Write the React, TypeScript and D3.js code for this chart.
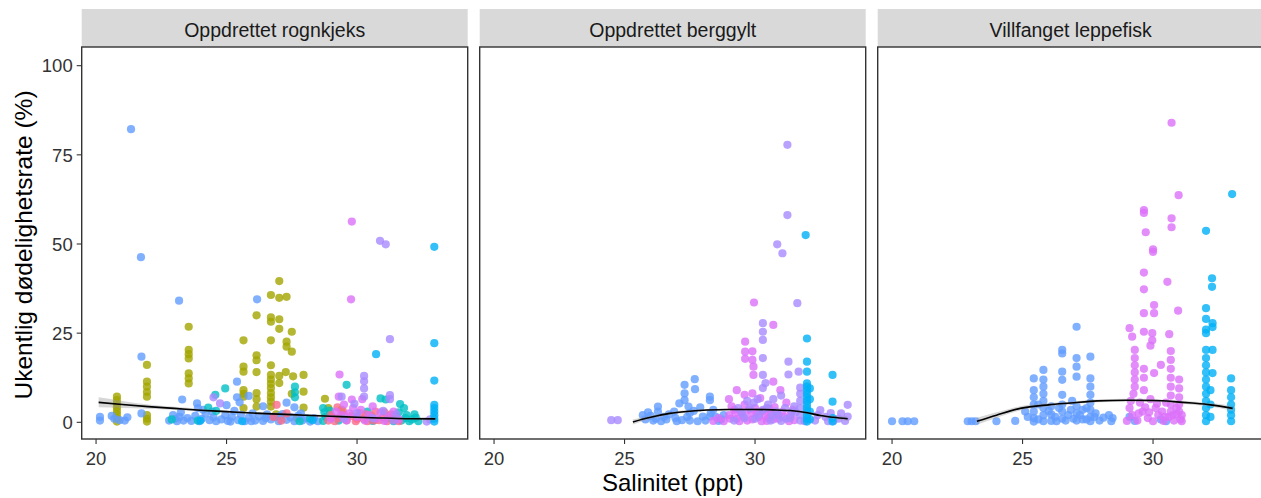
import React from 'react';
import * as d3 from 'd3';

type P = [number, number];

const facetLabels = ['Oppdrettet rognkjeks', 'Oppdrettet berggylt', 'Villfanget leppefisk'];
const xTicks = [20, 25, 30];
const yTicks = [0, 25, 50, 75, 100];
const xTitle = 'Salinitet (ppt)';
const yTitle = 'Ukentlig dødelighetsrate (%)';

const OLIVE = '#A3A500';
const CORN = '#619CFF';
const TEAL = '#00BFC4';
const BRIGHT = '#00B0F6';
const LAV = '#A88AFF';
const MAG = '#DC71FA';
const PINK = '#FA6A8A';

// ---- Panel 1: Oppdrettet rognkjeks ----
const p1Olive: P[] = [
  [20.8, 7.2], [20.8, 6.2], [20.8, 5.2], [20.8, 4.2], [20.8, 3.2], [20.8, 2.2], [20.8, 1.2], [20.8, 0.2],
  [21.95, 16.1], [21.95, 11.4], [21.95, 10], [21.95, 8.5], [21.95, 7.2], [21.95, 2], [21.95, 1], [21.95, 0.2],
  [23.55, 26.8], [23.55, 20.3], [23.55, 19.1], [23.55, 17.9], [23.55, 13.7], [23.55, 12.3], [23.55, 10.9],
  [25.65, 23], [25.65, 15.6], [25.65, 14.2], [25.65, 9], [25.65, 8], [25.65, 7.2], [25.65, 4],
  [26.15, 30], [26.15, 18.8], [26.15, 17.4], [26.15, 14.1], [26.15, 8.2], [26.15, 6.5], [26.15, 4.4],
  [26.7, 35.7], [26.7, 29.4], [26.7, 28.2], [26.7, 23], [26.7, 16], [26.7, 13.3], [26.7, 12], [26.7, 10.8],
  [26.7, 9.6], [26.7, 8.2], [26.7, 7], [26.7, 5.8], [26.7, 4.4],
  [27.02, 39.6], [27.02, 34.9], [27.02, 28.9], [27.02, 26.2], [27.02, 13], [27.02, 11],
  [27.3, 35.2], [27.3, 22.6], [27.3, 21.2], [27.27, 14.1],
  [27.5, 25.4], [27.5, 19.8], [27.55, 12.9], [27.5, 8],
  [27.95, 13.3], [27.95, 8.6], [27.95, 4.1],
  [28.77, 6.6], [28.9, 4], [29.4, 3.5], [26.9, 2.2], [27.7, 1.2],
];

const p1Corn: P[] = [
  [21.34, 82.2], [21.72, 46.3], [23.18, 34.1], [26.17, 34.5], [21.74, 18.4], [21.74, 2.5],
  [23.3, 6.4], [25.4, 11.4], [25.4, 7], [25.85, 7.4], [23.87, 5.3], [25.0, 4.8], [25.5, 5.6],
  [20.15, 1.5], [20.15, 0.5], [20.6, 1.8], [20.7, 1], [20.9, 0.6], [21.1, 0.5], [21.2, 1.4],
  [22.95, 2], [23.05, 1], [23.1, 0.3], [23.2, 1.5], [23.35, 0.5], [23.5, 1.2], [23.65, 0.4],
  [23.8, 1.8], [23.95, 0.3], [24.05, 1], [24.2, 2.4], [24.35, 0.6], [24.5, 1.4], [24.6, 0.3],
  [24.8, 0.8], [24.95, 2], [25.05, 0.4], [25.2, 1.5], [25.3, 3.2], [25.45, 0.6], [25.55, 2.1],
  [25.7, 0.3], [25.85, 1.3], [26.0, 2.5], [26.1, 0.5], [26.25, 1.6], [26.4, 0.4], [26.55, 2.2],
  [26.7, 0.8], [26.85, 1.5], [27.0, 0.3], [27.15, 2.3], [27.3, 0.7], [27.45, 1.4], [27.6, 0.3],
  [27.75, 1.9], [27.9, 0.5], [28.05, 1.2], [28.2, 0.2], [23.9, 4], [24.1, 3.5], [26.4, 4.5],
  [27.3, 5.5], [27.6, 4.2], [22.8, 0.5], [23.25, 2.8], [24.45, 3], [25.15, 0.2], [25.95, 0.3],
  [26.5, 1.2], [27.05, 1.8], [27.85, 2.5], [28.35, 1.2], [28.5, 0.3],
];

const p1Teal: P[] = [
  [24.95, 9.5], [24.57, 7.7], [27.62, 10], [27.62, 8.4], [27.62, 7], [29.6, 10.5], [30.9, 6.7],
  [31.1, 6.4], [31.65, 5.1], [31.8, 4], [28.7, 4], [28.75, 2.8], [28.8, 1.5], [28.7, 0.4],
  [28.95, 3.3], [31.5, 1.5], [31.7, 0.5], [31.9, 2], [32.1, 0.8], [32.25, 1.3], [32.35, 0.3],
  [29.3, 0.5], [24.3, 4.1], [24.6, 3.2], [23.9, 0.5], [22.9, 0.8], [28.2, 1], [27.8, 0.3],
  [30.6, 0.4], [31.2, 1.2], [30.4, 3], [31.6, 2.8], [31.85, 1.2], [32.0, 0.3], [32.2, 2.2],
  [31.4, 0.3],
];

const p1Bright: P[] = [
  [32.96, 49.2], [32.96, 22.2], [32.96, 11.7], [32.96, 4.9], [32.96, 4], [32.96, 3], [32.96, 2],
  [32.96, 1], [32.96, 0.2], [30.73, 19.1], [24.0, 0.5], [25.6, 0.3], [28.3, 0.6],
];

const p1Pink: P[] = [
  [26.92, 4.9], [26.8, 1.5], [27.1, 0.5], [27.3, 2.5], [28.9, 0.5], [29.0, 2], [29.15, 0.3],
  [29.3, 1.2], [29.45, 3.3], [29.6, 0.6], [29.8, 1.8], [29.95, 0.3], [30.1, 2.6], [30.25, 1],
  [30.4, 0.3], [30.55, 1.8], [30.7, 3], [30.85, 0.6], [31.0, 1.5], [31.15, 0.3], [31.3, 2.2],
  [31.45, 0.8], [31.6, 0.3], [29.25, 4.2], [29.05, 1.4], [29.5, 2], [30.0, 1], [30.35, 2.2],
  [30.65, 0.5], [31.05, 2.8], [31.4, 1.5],
];

const p1Mag: P[] = [
  [29.8, 56.3], [29.77, 34.5], [29.33, 13.4], [29.0, 1], [29.2, 3], [29.4, 2], [29.5, 5],
  [29.6, 0.5], [29.7, 2.5], [29.85, 4], [30.0, 1.5], [30.15, 3.5], [30.3, 0.5], [30.45, 2],
  [30.6, 4.5], [30.75, 1], [30.9, 2.8], [31.05, 0.4], [31.2, 1.7], [31.4, 3], [31.6, 0.8],
  [29.3, 7.2], [29.8, 6.4], [30.2, 6.5],
];

const p1Lav: P[] = [
  [30.88, 50.9], [31.1, 49.9], [31.26, 23.3], [30.27, 13], [30.27, 11.5], [30.27, 7.2],
  [30.27, 9.5], [29.41, 7.2], [31.26, 7.6], [31.26, 6.5], [24.5, 7], [24.75, 5.3], [32.67, 0.2],
  [32.8, 0.8], [29.5, 1], [30.0, 2.5], [30.6, 1.2], [31.0, 3.2], [31.4, 0.5], [31.5, 2.2], [29.9, 5.2],
];

// ---- Panel 2: Oppdrettet berggylt ----
const p2Corn: P[] = [
  [27.69, 12.1], [27.3, 10.5], [27.7, 9.3], [27.3, 8.1], [27.3, 6.2], [27.45, 4.4], [27.5, 2.6],
  [27.5, 0.5], [26.28, 4.4], [26.28, 3], [25.7, 2], [25.8, 0.8], [26.0, 1.8], [28.27, 7.2],
  [28.27, 6.2], [28.27, 1.6], [27.1, 5.3], [26.9, 3], [26.6, 0.8], [28.0, 1.6], [26.5, 1.5],
  [26.95, 1.2], [27.2, 0.6], [28.5, 1.5], [28.6, 0.4], [28.8, 2], [26.4, 0.3], [27.9, 4.2],
  [28.4, 3.5], [27.8, 0.3], [26.1, 0.5], [25.9, 2.8], [26.2, 1], [26.7, 2.2], [27.0, 0.3],
  [27.4, 1.5], [27.65, 3.2], [28.1, 0.5], [28.3, 2.6], [28.7, 0.8],
];

const p2Lav: P[] = [
  [24.49, 0.6], [24.74, 0.6], [31.24, 77.8], [31.24, 58.1], [30.85, 49.9], [31.05, 47.4],
  [31.62, 33.4], [30.3, 27.8], [30.3, 25.4], [30.3, 23.1], [30.3, 18], [30.3, 13.3], [30.3, 9.6],
  [31.28, 17], [31.28, 13.4], [31.67, 14.2], [31.73, 9.7], [31.73, 8], [31.73, 6], [31.73, 4],
  [31.73, 2], [31.73, 0.5], [33.55, 4.9], [33.55, 1.6], [32.5, 3.4], [30.1, 6.5], [30.5, 5],
  [30.8, 3], [31.0, 7.5], [31.2, 1], [31.5, 4.5], [29.8, 4], [30.0, 1], [30.6, 0.5], [32.3, 0.5],
  [32.7, 1.5], [33.0, 0.4], [33.3, 2.5], [30.4, 11], [30.9, 2], [29.5, 2.5], [29.2, 0.5],
  [30.3, 3.5], [30.7, 6.5], [31.4, 2.8], [29.7, 6], [31.9, 0.3], [32.9, 2.6],
  [29.35, 4], [29.6, 1.2], [29.95, 5.5], [30.15, 2.2], [30.45, 4], [30.65, 1.8], [31.0, 0.4],
  [31.15, 4], [31.35, 1.2], [31.55, 2.8], [32.4, 2], [32.8, 0.3], [33.2, 1], [33.45, 0.4],
];

const p2Mag: P[] = [
  [29.96, 33.6], [30.7, 27.3], [29.62, 22.6], [29.62, 19.8], [29.62, 17.8], [29.9, 19.9],
  [29.9, 17.5], [29.94, 15.6], [29.94, 13.3], [30.7, 11.4], [30.97, 9], [29.3, 9], [29.6, 7.7],
  [29.9, 8.1], [28.8, 0.3], [29.0, 2], [29.1, 4.5], [29.3, 1], [29.45, 3], [29.6, 5], [29.7, 0.5],
  [29.85, 2.5], [30.0, 4], [30.15, 1.5], [30.3, 3.2], [30.45, 0.4], [30.6, 2.2], [30.75, 4.3],
  [30.9, 1], [31.05, 3], [31.2, 5.5], [31.35, 2], [31.5, 0.6], [28.6, 1.2], [28.4, 0.4],
  [29.0, 6.5], [30.2, 6.8], [29.2, 3.5], [30.5, 1.2], [29.05, 1], [29.25, 2.5], [29.4, 0.3],
  [29.55, 1.8], [29.75, 3.5], [29.9, 0.8], [30.05, 2.8], [30.25, 0.3], [30.4, 2], [30.55, 3.8],
  [30.7, 0.8], [30.85, 2.5], [31.1, 1.5], [31.3, 0.3], [31.45, 3.5],
];

const p2Bright: P[] = [
  [31.94, 52.5], [31.99, 23.5], [31.99, 17], [31.99, 14.2], [31.99, 10.9], [31.99, 10],
  [31.99, 9], [31.99, 8], [31.99, 7], [31.99, 6], [31.99, 5], [31.99, 4], [31.99, 3], [31.99, 2],
  [31.99, 1], [31.99, 0.2], [32.97, 13.3], [32.97, 5.8], [32.97, 1.2], [32.97, 0.2], [32.1, 3],
  [32.1, 0.8], [32.1, 6.5], [32.1, 9.5],
];

// ---- Panel 3: Villfanget leppefisk ----
const p3Corn: P[] = [
  [20.0, 0.3], [20.4, 0.3], [20.6, 0.3], [20.85, 0.3], [22.9, 0.3], [23.05, 0.3], [23.2, 0.3],
  [24.0, 0.3], [24.72, 0.4], [25.1, 3],
  [25.43, 12.3], [25.43, 9], [25.43, 7], [25.43, 5], [25.43, 3], [25.43, 1.2], [25.43, 0.2],
  [25.8, 14.7], [25.8, 12], [25.8, 10], [25.8, 8], [25.8, 6], [25.8, 4], [25.8, 2], [25.8, 0.3],
  [26.1, 4.5], [26.1, 2.2], [26.1, 0.4],
  [26.52, 20.3], [26.52, 19.3], [26.52, 14.2], [26.52, 11.9], [26.52, 7.7], [26.52, 5], [26.52, 3],
  [26.52, 1], [26.3, 0.3], [26.75, 2],
  [27.07, 26.8], [27.07, 18], [27.07, 15.6], [27.07, 12.8], [27.07, 4.5], [27.07, 2.5], [27.07, 0.5],
  [26.9, 6], [27.3, 3.5], [27.3, 0.8],
  [27.6, 18.4], [27.6, 12.3], [27.6, 10], [27.6, 7.7], [27.6, 5.5], [27.6, 3.5], [27.6, 1.5],
  [27.6, 0.3], [27.8, 2.5],
  [28.31, 2], [28.45, 1.2], [28.4, 0.3], [29.1, 1.5], [29.3, 0.4], [30.3, 0.8], [30.5, 0.3],
  [25.2, 1.5], [25.6, 0.8], [25.6, 5], [26.0, 3.2], [26.25, 1.5], [26.4, 4], [26.65, 0.5],
  [26.85, 3.5], [26.95, 1], [27.2, 2], [27.45, 4], [27.45, 0.8], [27.75, 1.5], [27.95, 0.5],
  [28.1, 1.3],
];

const p3Mag: P[] = [
  [30.71, 84], [30.98, 63.7], [29.65, 59.5], [29.65, 58.7], [30.71, 57.2], [30.71, 54.7],
  [29.72, 53.3], [30.0, 48.5], [30.0, 47.8], [29.65, 42], [30.55, 39.4], [29.65, 37.3],
  [30.04, 32.9], [30.96, 31.3], [29.65, 30.6], [30.04, 30.6],
  [29.1, 26.4], [29.2, 24], [29.65, 25.4], [29.97, 25], [30.62, 24.7], [29.97, 23],
  [29.3, 20.3], [29.3, 18], [29.3, 16], [29.3, 14], [29.3, 12], [29.3, 10],
  [29.65, 15], [29.65, 12.5], [29.65, 9],
  [30.68, 20], [30.68, 17.5], [30.68, 15], [30.68, 12.5], [30.68, 10], [30.68, 7.5], [30.68, 5], [30.68, 3],
  [31.0, 12], [31.0, 9.5], [31.0, 7], [31.0, 5], [31.0, 3],
  [30.04, 13.8], [29.9, 21.5], [30.3, 16.1],
  [29.1, 4], [29.2, 2], [29.4, 0.5], [29.5, 5.5], [29.6, 3], [29.8, 1.2], [29.9, 6.5], [30.1, 4],
  [30.2, 2], [30.4, 0.4], [30.5, 5.5], [30.6, 1.5], [30.8, 0.5], [30.9, 2.2], [31.05, 0.8],
  [31.1, 2], [29.0, 0.4], [29.15, 6], [29.25, 8], [29.45, 2.5], [29.7, 4.2], [29.85, 2.8],
  [30.0, 0.3], [30.15, 5.2], [30.35, 3], [30.45, 1.5], [30.75, 2], [30.9, 4], [31.1, 0.3],
];

const p3Bright: P[] = [
  [33.03, 64], [32.03, 53.7], [32.26, 40.4], [32.26, 38], [32.03, 32], [32.03, 29], [32.03, 26],
  [32.03, 25], [32.28, 27.8], [32.28, 26.7], [32.03, 20.3], [32.03, 18], [32.03, 16], [32.03, 14],
  [32.03, 12], [32.03, 10], [32.03, 8], [32.03, 6], [32.03, 4], [32.03, 2], [32.03, 0.3],
  [32.28, 20.3], [32.28, 13.8], [32.2, 9], [32.2, 5], [32.2, 1.5],
  [32.99, 12.3], [32.99, 9], [32.99, 7], [32.99, 5], [32.99, 3.5], [32.99, 2], [32.99, 0.3],
];

// ---- LOESS fits [x, fit] and standard-error half widths ----
const smooth1: P[] = [
  [20.1, 5.6], [21, 5.0], [22, 4.4], [23, 3.9], [24, 3.4], [25, 3.0], [26, 2.6], [27, 2.3],
  [28, 2.0], [29, 1.7], [30, 1.4], [31, 1.2], [32, 1.0], [33, 0.95],
];
const se1 = [1.4, 1.0, 0.6, 0.45, 0.35, 0.3, 0.3, 0.3, 0.3, 0.3, 0.3, 0.3, 0.35, 0.45];

const smooth2: P[] = [
  [25.32, 0.1], [26, 1.4], [26.73, 2.5], [27.5, 3.1], [28.14, 3.45], [29, 3.6], [29.94, 3.6],
  [30.7, 3.5], [31.35, 3.3], [32, 2.7], [32.5, 1.9], [33, 1.4], [33.55, 1.0],
];
const se2 = [0.7, 0.5, 0.4, 0.35, 0.3, 0.3, 0.3, 0.3, 0.3, 0.35, 0.4, 0.45, 0.6];

const smooth3: P[] = [
  [23.25, 0.3], [24, 2.0], [24.91, 3.9], [26, 4.9], [26.83, 5.4], [27.86, 6.0], [29, 6.2],
  [30.04, 6.1], [30.8, 5.8], [31.5, 5.4], [32.2, 4.9], [33.05, 3.9],
];
const se3 = [1.0, 0.8, 0.6, 0.5, 0.4, 0.4, 0.4, 0.4, 0.4, 0.45, 0.5, 0.7];

const panels = [
  {
    groups: [
      { color: OLIVE, pts: p1Olive }, { color: CORN, pts: p1Corn }, { color: TEAL, pts: p1Teal },
      { color: PINK, pts: p1Pink }, { color: MAG, pts: p1Mag }, { color: LAV, pts: p1Lav },
      { color: BRIGHT, pts: p1Bright },
    ],
    smooth: smooth1, se: se1,
  },
  {
    groups: [
      { color: CORN, pts: p2Corn }, { color: MAG, pts: p2Mag }, { color: LAV, pts: p2Lav },
      { color: BRIGHT, pts: p2Bright },
    ],
    smooth: smooth2, se: se2,
  },
  {
    groups: [
      { color: CORN, pts: p3Corn }, { color: MAG, pts: p3Mag }, { color: BRIGHT, pts: p3Bright },
    ],
    smooth: smooth3, se: se3,
  },
];

const FONT = '"Liberation Sans", Arial, Helvetica, sans-serif';

export default function App() {
  const W = 1261;
  const H = 498;
  const panelW = 386;
  const panelTop = 47;
  const panelBottom = 439;
  const stripTop = 9;
  const panelX = [81.7, 479.7, 877.7];

  const x = d3.scaleLinear().domain([19.45, 34.24]).range([0, panelW]);
  const y = d3.scaleLinear().domain([-4.68, 105.24]).range([panelBottom, panelTop]);

  return (
    <svg width={W} height={H} style={{ position: 'absolute', left: 0, top: 0, background: '#fff' }}
      fontFamily={FONT}>
      <rect x={0} y={0} width={W} height={H} fill="#fff" />
      {panels.map((pn, i) => {
        const x0 = panelX[i];
        const line = d3.line<P>().x((d) => x(d[0])).y((d) => y(d[1])).curve(d3.curveMonotoneX);
        const area = d3
          .area<[number, number, number]>()
          .x((d) => x(d[0]))
          .y0((d) => y(d[1] - d[2]))
          .y1((d) => y(d[1] + d[2]))
          .curve(d3.curveMonotoneX);
        const band = pn.smooth.map((d, k) => [d[0], d[1], pn.se[k]] as [number, number, number]);
        return (
          <g key={i}>
            <rect x={x0} y={stripTop} width={panelW} height={panelTop - stripTop} fill="#D9D9D9" />
            <text x={x0 + panelW / 2} y={37} textAnchor="middle" fontSize={19.5} fill="#1A1A1A">
              {facetLabels[i]}
            </text>
            <g transform={`translate(${x0},0)`}>
              {pn.groups.map((g, gi) => (
                <g key={gi} fill={g.color} fillOpacity={0.8}>
                  {g.pts.map((p, k) => (
                    <circle key={k} cx={x(p[0])} cy={y(p[1])} r={4.1} />
                  ))}
                </g>
              ))}
              <path d={area(band) || ''} fill="#999999" fillOpacity={0.4} />
              <path d={line(pn.smooth) || ''} fill="none" stroke="#000" strokeWidth={1.6} />
              {xTicks.map((t) => (
                <g key={t} transform={`translate(${x(t)},${panelBottom})`}>
                  <line y1={0} y2={5} stroke="#333" strokeWidth={1.1} />
                  <text y={26} textAnchor="middle" fontSize={18.5} fill="#333">{t}</text>
                </g>
              ))}
            </g>
            <rect x={x0} y={panelTop} width={panelW} height={panelBottom - panelTop} fill="none"
              stroke="#333" strokeWidth={1.4} />
          </g>
        );
      })}
      {yTicks.map((t) => (
        <g key={t} transform={`translate(${panelX[0]},${y(t)})`}>
          <line x1={-5} x2={0} stroke="#333" strokeWidth={1.1} />
          <text x={-9} dy="0.36em" textAnchor="end" fontSize={18.5} fill="#333">{t}</text>
        </g>
      ))}
      <text x={672.7} y={491} textAnchor="middle" fontSize={24} fill="#000">{xTitle}</text>
      <text transform="translate(31.5,245) rotate(-90)" textAnchor="middle" fontSize={24.5} fill="#000">
        {yTitle}
      </text>
    </svg>
  );
}
